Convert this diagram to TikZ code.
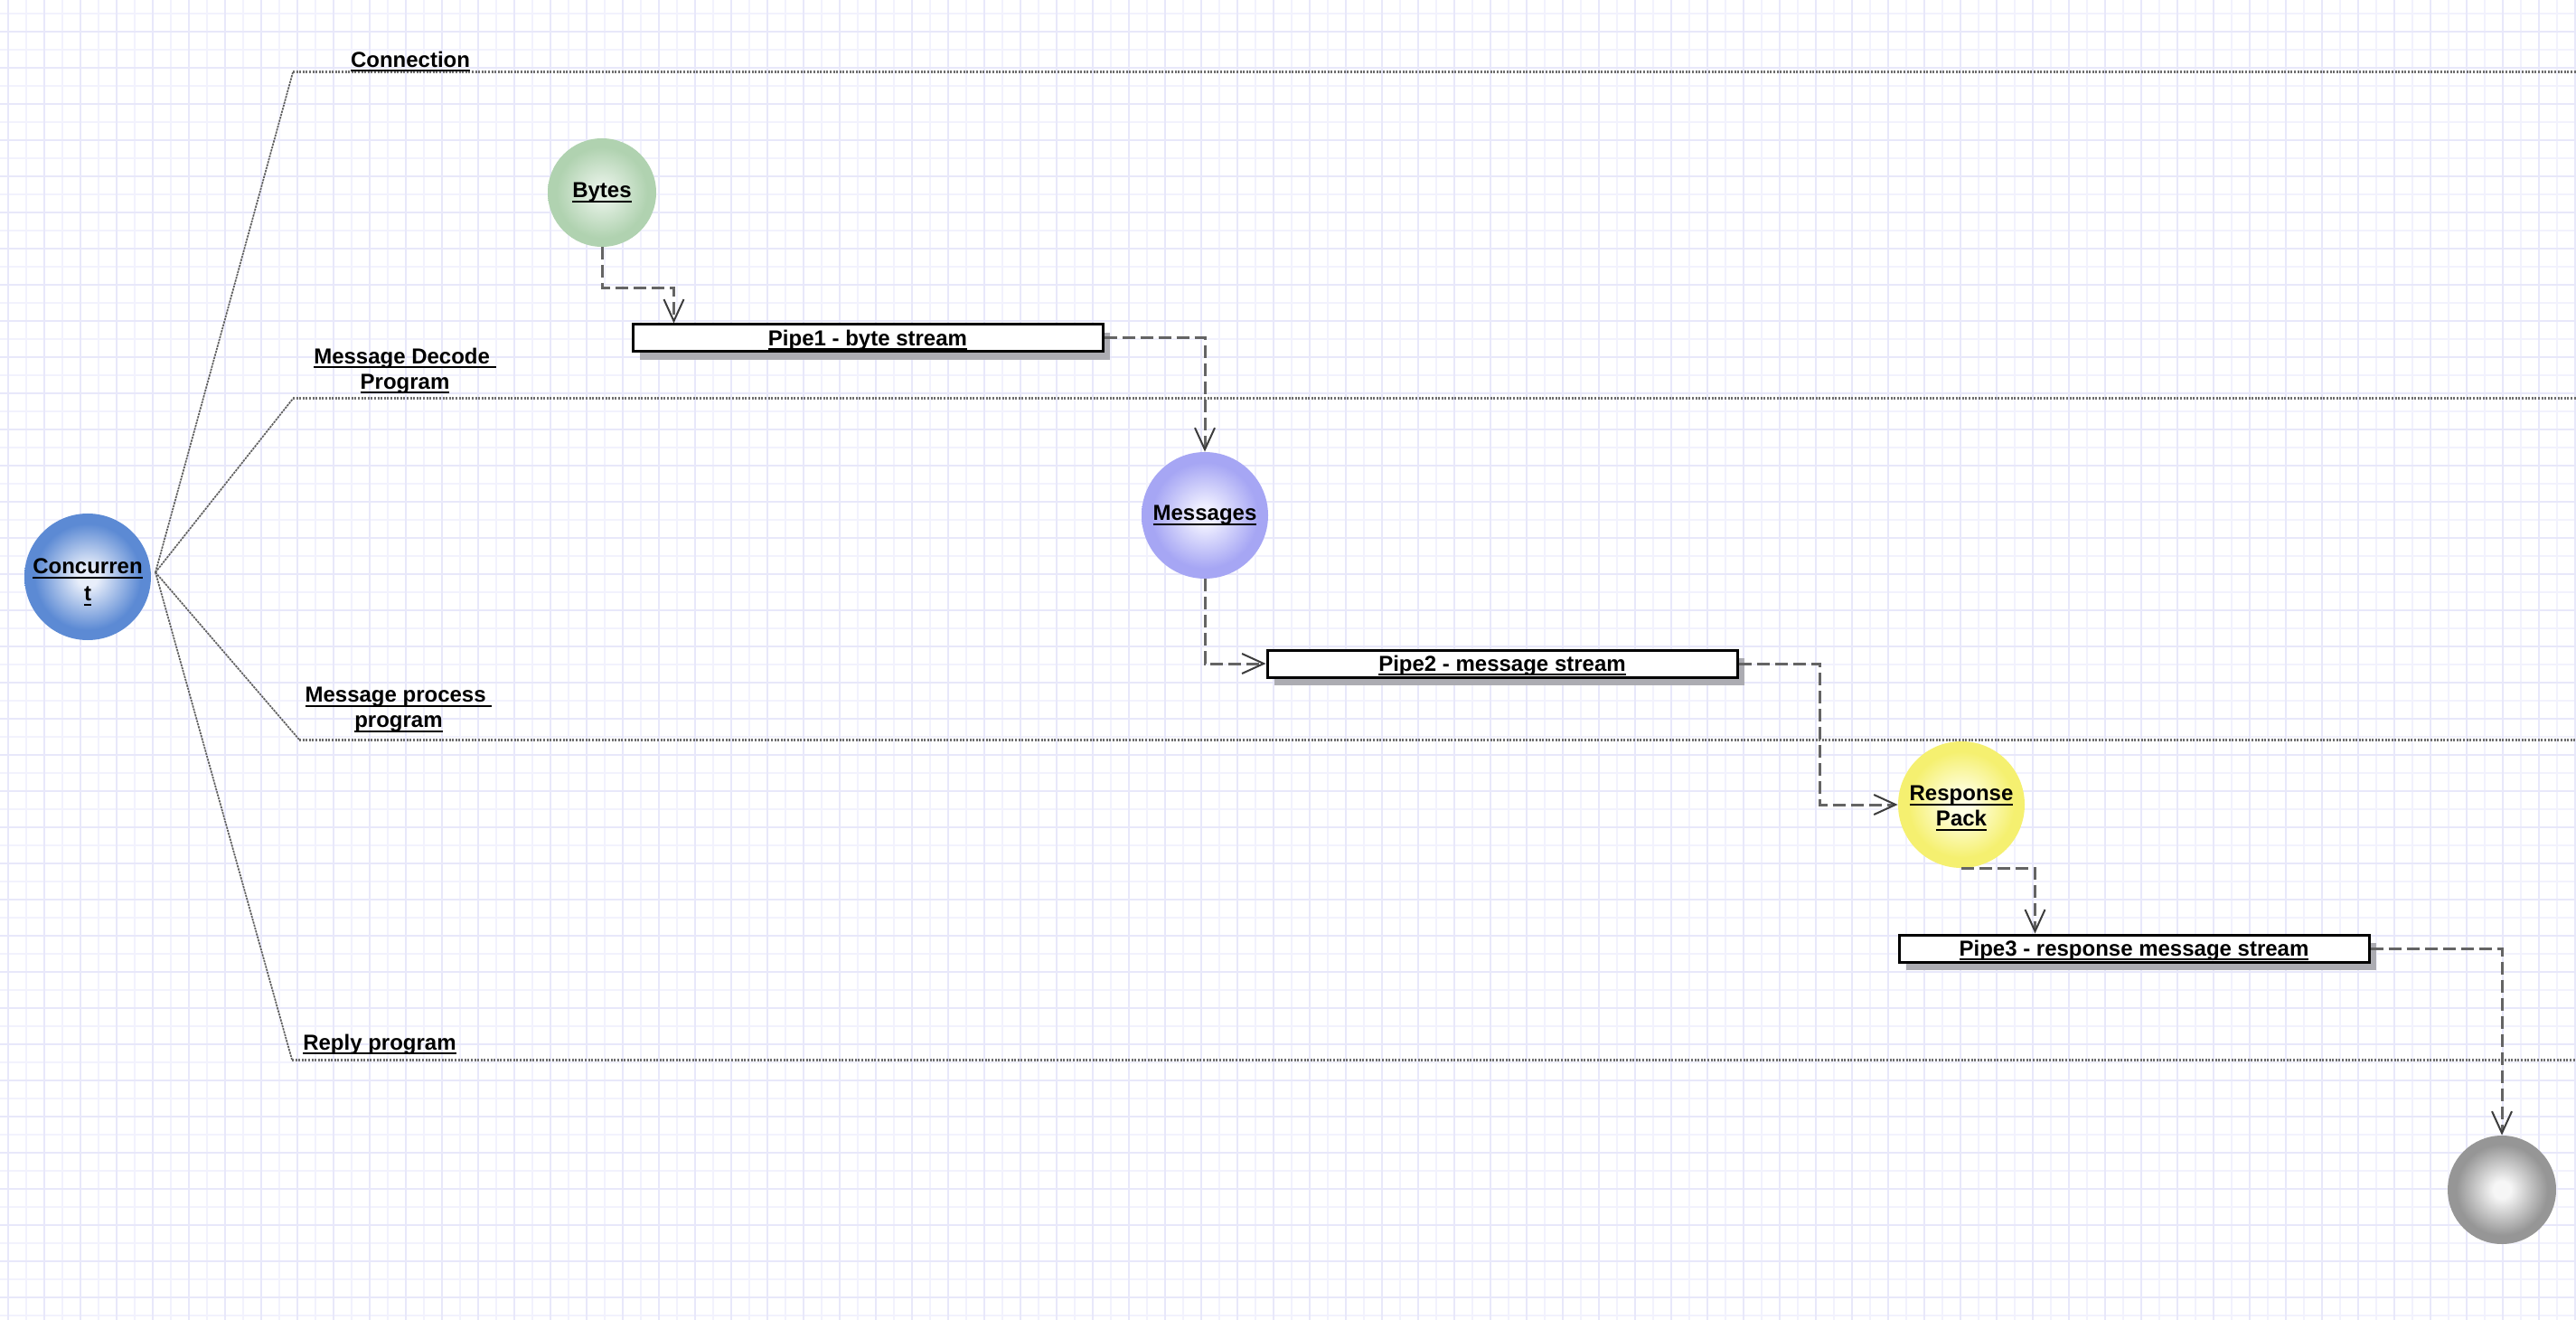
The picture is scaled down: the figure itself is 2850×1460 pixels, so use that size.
\documentclass[tikz,border=0pt]{standalone}
\usepackage{fontspec}
\setmainfont{Liberation Sans}
\usetikzlibrary{arrows.meta,calc,shadows}
\definecolor{gridA}{RGB}{232,232,250}
\definecolor{gridB}{RGB}{242,242,253}
\definecolor{lanegray}{RGB}{110,110,110}
\definecolor{spokegray}{RGB}{95,95,95}
\definecolor{flowgray}{RGB}{100,100,100}
\definecolor{tipgray}{RGB}{60,60,60}
\definecolor{shadowgray}{RGB}{172,172,178}
\definecolor{blueIn}{RGB}{232,238,250}
\definecolor{blueOut}{RGB}{92,138,212}
\definecolor{greenIn}{RGB}{228,240,228}
\definecolor{greenOut}{RGB}{176,210,176}
\definecolor{violIn}{RGB}{238,238,255}
\definecolor{violOut}{RGB}{166,166,244}
\definecolor{yelIn}{RGB}{255,255,228}
\definecolor{yelOut}{RGB}{245,240,112}
\definecolor{grayIn}{RGB}{246,246,246}
\definecolor{grayOut}{RGB}{150,150,150}
\pgfdeclareradialshading{shblue}{\pgfpoint{0bp}{0bp}}{color(0bp)=(blueIn); color(4bp)=(blueIn); color(21bp)=(blueOut); color(25bp)=(blueOut); color(50bp)=(blueOut)}
\pgfdeclareradialshading{shgreen}{\pgfpoint{0bp}{0bp}}{color(0bp)=(greenIn); color(4bp)=(greenIn); color(21bp)=(greenOut); color(25bp)=(greenOut); color(50bp)=(greenOut)}
\pgfdeclareradialshading{shviol}{\pgfpoint{0bp}{0bp}}{color(0bp)=(violIn); color(4bp)=(violIn); color(21bp)=(violOut); color(25bp)=(violOut); color(50bp)=(violOut)}
\pgfdeclareradialshading{shyel}{\pgfpoint{0bp}{0bp}}{color(0bp)=(yelIn); color(4bp)=(yelIn); color(21bp)=(yelOut); color(25bp)=(yelOut); color(50bp)=(yelOut)}
\pgfdeclareradialshading{shgray}{\pgfpoint{0bp}{0bp}}{color(0bp)=(grayIn); color(4bp)=(grayIn); color(21bp)=(grayOut); color(25bp)=(grayOut); color(50bp)=(grayOut)}
\newsavebox{\ulbox}
\newcommand{\ulin}[1]{\sbox{\ulbox}{#1}\rlap{\rule[-2.4pt]{\wd\ulbox}{0.95pt}}\usebox{\ulbox}}
\tikzset{
  lbl/.style={font=\fontsize{12}{14}\selectfont\bfseries, align=center, inner sep=0pt},
  blobtext/.style={font=\fontsize{12}{14}\selectfont\bfseries, align=center, inner sep=0pt},
  blob/.style={circle, inner sep=0pt, shade, font=\fontsize{12}{14}\selectfont\bfseries, align=center},
  pipebox/.style={draw=black, line width=1.5pt, fill=white, minimum width=260pt, minimum height=15pt, inner sep=0pt,
    text height=9.5pt, text depth=1pt,
    font=\fontsize{12}{14}\selectfont\bfseries,
    drop shadow={shadow xshift=4pt, shadow yshift=-4.5pt, fill=shadowgray, opacity=1}},
  lane/.style={draw=lanegray, line width=1.5pt, dash pattern=on 1pt off 0.8pt},
  spoke/.style={draw=spokegray, line width=0.85pt, dash pattern=on 1.2pt off 0.5pt},
  flow/.style={draw=flowgray, line width=1.5pt, dash pattern=on 7pt off 3pt,
    -{Straight Barb[length=12pt,width=11pt,line width=1pt,color=tipgray]}},
  gridlight/.style={draw=gridB, line width=1pt},
  griddark/.style={draw=gridA, line width=1pt}
}
\begin{document}
\begin{tikzpicture}[x=0.5pt,y=-0.5pt]
\useasboundingbox (0,0) rectangle (2850,1460);
\fill[white] (0,0) rectangle (2850,1460);
% grid
\foreach \x in {29,69,...,2850} \draw[gridlight] (\x,0) -- (\x,1460);
\foreach \y in {15,55,...,1460} \draw[gridlight] (0,\y) -- (2850,\y);
\foreach \x in {9,49,...,2850} \draw[griddark] (\x,0) -- (\x,1460);
\foreach \y in {35,75,...,1460} \draw[griddark] (0,\y) -- (2850,\y);

% lanes
\coordinate (hub) at (172,633);
\coordinate (l1) at (324,80);
\coordinate (l2) at (324,441);
\coordinate (l3) at (331,818);
\coordinate (l4) at (323,1172);
\coordinate (r1) at (2850,80);
\coordinate (r2) at (2850,441);
\coordinate (r3) at (2850,818);
\coordinate (r4) at (2850,1172);
\draw[lane] (l1) -- (r1);
\draw[lane] (l2) -- (r2);
\draw[lane] (l3) -- (r3);
\draw[lane] (l4) -- (r4);
\draw[spoke] (hub) -- (l1);
\draw[spoke] (hub) -- (l2);
\draw[spoke] (hub) -- (l3);
\draw[spoke] (hub) -- (l4);

% lane labels
\node[lbl] (tConn) at (454,68) {\ulin{Connection}};
\node[lbl] (tDec) at (448,410) {\ulin{Message Decode\ }\\\ulin{Program}};
\node[lbl] (tProc) at (441,785) {\ulin{Message process\ }\\\ulin{program}};
\node[lbl] (tReply) at (420,1155) {\ulin{Reply program}};

% circles
\node[blob, shading=shblue, minimum size=70pt,
  label={[blobtext, yshift=-3pt]center:{\ulin{Concurren}\\[1pt]\ulin{t}}}] (conc) at (97,638) {};
\node[blob, shading=shgreen, minimum size=60pt] (bytes) at (666,213) {\ulin{Bytes}};
\node[blob, shading=shviol, minimum size=70pt] (msgs) at (1333,570) {\ulin{Messages}};
\node[blob, shading=shyel, minimum size=70pt,
  label={[blobtext, yshift=-2pt]center:{\ulin{Response}\\\ulin{Pack}}}] (resp) at (2170,890) {};
\node[blob, shading=shgray, minimum size=60pt] (fin) at (2768,1316) {};

% pipes
\node[pipebox] (pipe1) at (960,374) {\ulin{Pipe1 - byte stream}};
\node[pipebox] (pipe2) at (1662,734) {\ulin{Pipe2 - message stream}};
\node[pipebox] (pipe3) at (2361,1049) {\ulin{Pipe3 - response message stream}};

% flows
\draw[flow] (bytes.south) -- ++(0,45) -| ($(pipe1.north west)+(47,0)$);
\draw[flow] (pipe1.east) -| (msgs.north);
\draw[flow] (msgs.south) |- (pipe2.west);
\draw[flow] (pipe2.east) -- ++(90,0) |- (resp.west);
\draw[flow] (resp.south) -| ($(pipe3.north west)+(152,0)$);
\draw[flow] (pipe3.east) -| (fin.north);
\end{tikzpicture}
\end{document}
